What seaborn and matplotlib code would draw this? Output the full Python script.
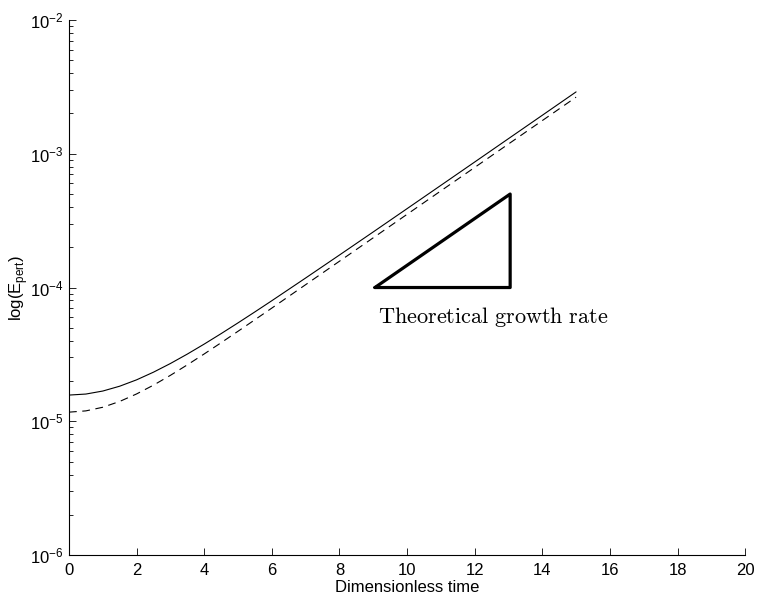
import numpy as np
import pandas as pd
import matplotlib
matplotlib.use("Agg")
import matplotlib.pyplot as plt
import seaborn as sns

# Perturbation energy against dimensionless time for the two runs
time = [0, 0.5, 1, 1.5, 2, 2.5, 3, 3.5, 4, 4.5, 5, 5.5, 6, 7, 8, 9, 10,
        11, 12, 13, 14, 15]
energy_solid = [1.570e-5, 1.598e-5, 1.683e-5, 1.829e-5, 2.041e-5, 2.329e-5,
                2.703e-5, 3.179e-5, 3.777e-5, 4.521e-5, 5.441e-5, 6.575e-5,
                7.967e-5, 1.178e-4, 1.749e-4, 2.604e-4, 3.886e-4, 5.804e-4,
                8.673e-4, 1.297e-3, 1.939e-3, 2.901e-3]
energy_dashed = [1.170e-5, 1.196e-5, 1.273e-5, 1.407e-5, 1.601e-5, 1.863e-5,
                 2.205e-5, 2.641e-5, 3.187e-5, 3.867e-5, 4.708e-5, 5.745e-5,
                 7.018e-5, 1.050e-4, 1.572e-4, 2.354e-4, 3.525e-4, 5.279e-4,
                 7.902e-4, 1.183e-3, 1.770e-3, 2.650e-3]

# Slope triangle for the theoretical growth rate
tri_t = [9.05, 13.05, 13.05, 9.05]
tri_e = [1.0e-4, 5.0e-4, 1.0e-4, 1.0e-4]
tri_label = r"$\mathrm{Theoretical\ growth\ rate}$"

x_ticks = [0, 2, 4, 6, 8, 10, 12, 14, 16, 18, 20]

sns.set_style("ticks")
plt.rcParams["font.family"] = ["Liberation Sans", "DejaVu Sans"]
plt.rcParams["xtick.direction"] = "in"
plt.rcParams["ytick.direction"] = "in"
for key in ["text.color", "axes.labelcolor", "xtick.color", "ytick.color",
            "xtick.labelcolor", "ytick.labelcolor"]:
    plt.rcParams[key] = "black"

df = pd.DataFrame({
    "t": time * 2,
    "E": energy_solid + energy_dashed,
    "run": ["a"] * len(time) + ["b"] * len(time),
})

fig = plt.figure(figsize=(7.58, 5.99), dpi=100)
ax = fig.add_axes([0.091, 0.0734, 0.892, 0.8932])

sns.lineplot(data=df, x="t", y="E", hue="run", style="run",
             palette=["black", "black"], dashes=["", (7, 5)],
             linewidth=0.8, legend=False, ax=ax)

sns.lineplot(x=tri_t, y=tri_e, sort=False, color="black", linewidth=2.3,
             ax=ax, estimator=None)

ax.text(12.55, 6.0e-5, tri_label, ha="center", va="center", fontsize=16,
        math_fontfamily="cm")

ax.set_yscale("log")
ax.set_xlim(0, 20)
ax.set_ylim(1e-6, 1e-2)
ax.set_xticks(x_ticks)
ax.set_xticklabels([str(v) for v in x_ticks])

ax.set_xlabel("Dimensionless time", fontsize=12, labelpad=1)
ax.set_ylabel(r"log(E$_{\mathregular{pert}}$)", fontsize=12, labelpad=0)

ax.tick_params(axis="both", which="major", labelsize=12, length=5,
               width=0.6, color="black", labelcolor="black")
ax.tick_params(axis="x", which="major", pad=6)
ax.tick_params(axis="y", which="major", pad=4)
ax.tick_params(axis="y", which="minor", length=3, width=0.6, color="black")
ax.tick_params(axis="x", which="minor", bottom=False)

for side in ["top", "right"]:
    ax.spines[side].set_visible(False)
for side in ["left", "bottom"]:
    ax.spines[side].set_color("black")
    ax.spines[side].set_linewidth(0.8)

fig.savefig("out.png", dpi=100)
